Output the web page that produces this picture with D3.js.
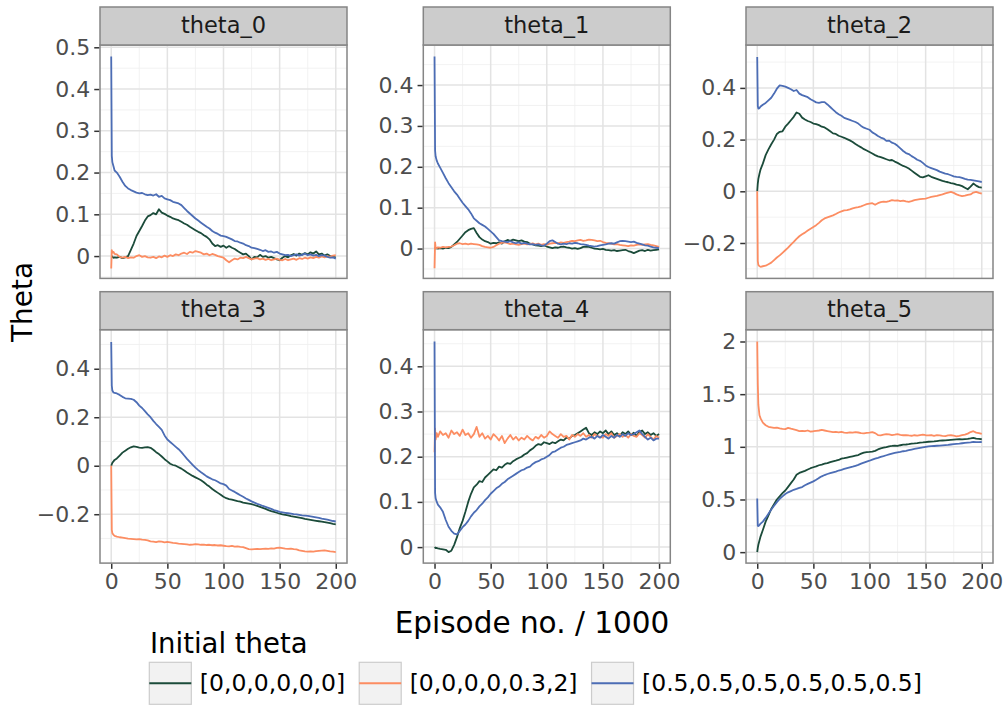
<!DOCTYPE html>
<html>
<head>
<meta charset="utf-8">
<script src="https://cdn.jsdelivr.net/npm/d3@7"></script>
<style>
  body { margin: 0; background: #ffffff; }
  svg { display: block; font-family: "DejaVu Sans", sans-serif; }
</style>
</head>
<body>
<svg id="chart" width="1008" height="707"></svg>
<script>
// Episode number (thousands) at which each parameter snapshot was taken
const episodes = [0, 0.5, 1, 2, 3,
  5, 7.5, 10, 12.5, 15, 17.5, 20, 22.5, 25, 27.5,
  30, 32.5, 35, 37.5, 40, 42.5, 45, 47.5, 50, 52.5,
  55, 57.5, 60, 62.5, 65, 67.5, 70, 72.5, 75, 77.5,
  80, 82.5, 85, 87.5, 90, 92.5, 95, 97.5, 100, 102.5,
  105, 107.5, 110, 112.5, 115, 117.5, 120, 122.5, 125, 127.5,
  130, 132.5, 135, 137.5, 140, 142.5, 145, 147.5, 150, 152.5,
  155, 157.5, 160, 162.5, 165, 167.5, 170, 172.5, 175, 177.5,
  180, 182.5, 185, 187.5, 190, 192.5, 195, 197.5, 200];

const initialThetas = ["[0,0,0,0,0,0]", "[0,0,0,0,0.3,2]", "[0.5,0.5,0.5,0.5,0.5,0.5]"];
const seriesColors = ["#1b4b3a", "#fc8d62", "#4c6db5"];
const facetNames = ["theta_0", "theta_1", "theta_2", "theta_3", "theta_4", "theta_5"];

// theta_0
const theta0Zero = [0, 0, -0.002, -0.004, -0.003,
  -0.004, -0.002, -0.005, -0.003, 0.0, 0.015, 0.03, 0.048, 0.06, 0.072,
  0.085, 0.095, 0.098, 0.103, 0.1, 0.112, 0.104, 0.101, 0.097, 0.094,
  0.09, 0.088, 0.086, 0.082, 0.078, 0.075, 0.07, 0.066, 0.062, 0.058,
  0.055, 0.05, 0.046, 0.04, 0.03, 0.024, 0.026, 0.022, 0.025, 0.02,
  0.024, 0.02, 0.017, 0.012, 0.008, 0.004, 0.006, 0.0, -0.008, -0.002,
  -0.003, 0.003, -0.002, 0.0, -0.004, -0.002, -0.005, -0.008, -0.01, -0.004,
  0.0, -0.003, 0.002, 0.005, 0.001, 0.006, 0.003, 0.007, 0.004, 0.009,
  0.006, 0.011, 0.004, 0.006, 0.001, 0.004, 0.0, -0.002, -0.003];
const theta0Mixed = [-0.03, 0.014, 0.008, 0.01, 0.005,
  0.004, -0.002, -0.004, -0.002, -0.005, -0.003, -0.004, 0.0, 0.002, -0.002,
  0.0, -0.003, -0.004, -0.002, -0.005, -0.001, -0.003, 0.001, -0.002, 0.002,
  0.0, 0.004, 0.002, 0.006, 0.008, 0.005, 0.01, 0.008, 0.012, 0.01,
  0.008, 0.004, 0.006, 0.002, 0.005, 0.003, 0.0, -0.002, -0.004, -0.01,
  -0.015, -0.01, -0.006, -0.008, -0.004, -0.005, -0.002, -0.005, -0.008, -0.006,
  -0.005, -0.008, -0.006, -0.009, -0.007, -0.01, -0.008, -0.006, -0.009, -0.01,
  -0.007, -0.01, -0.008, -0.006, -0.009, -0.005, -0.007, -0.004, -0.006, -0.003,
  -0.005, -0.002, -0.004, -0.001, -0.003, 0.0, -0.002, 0.001, 0.002];
const theta0Half = [0.478, 0.24, 0.225, 0.215, 0.205,
  0.2, 0.19, 0.178, 0.168, 0.162, 0.158, 0.155, 0.152, 0.15, 0.151,
  0.148, 0.146, 0.147, 0.145, 0.148, 0.142, 0.144, 0.138, 0.136, 0.134,
  0.13, 0.128, 0.126, 0.122, 0.115, 0.108, 0.102, 0.096, 0.09, 0.085,
  0.08, 0.075, 0.07, 0.066, 0.06, 0.056, 0.053, 0.049, 0.048, 0.046,
  0.043, 0.04, 0.036, 0.035, 0.032, 0.03, 0.026, 0.024, 0.02, 0.019,
  0.017, 0.015, 0.012, 0.014, 0.01, 0.011, 0.008, 0.01, 0.006, 0.004,
  0.002, 0.003, 0.0, 0.002, 0.004, 0.001, 0.003, 0.006, 0.002, 0.004,
  0.001, 0.003, 0.0, 0.002, 0.001, -0.002, -0.004, -0.003, -0.006];

// theta_1
const theta1Zero = [0, 0.001, 0.0, 0.001, 0.0,
  0.001, 0.0, 0.002, 0.001, 0.004, 0.01, 0.016, 0.024, 0.032, 0.04,
  0.045, 0.048, 0.05, 0.038, 0.028, 0.022, 0.018, 0.016, 0.012, 0.014,
  0.013, 0.015, 0.012, 0.018, 0.021, 0.019, 0.022, 0.02, 0.018, 0.02,
  0.017, 0.016, 0.012, 0.01, 0.008, 0.007, 0.006, 0.008, 0.005, 0.003,
  0.001, 0.003, 0.002, 0.004, 0.005, 0.003, 0.002, 0.0, 0.001, -0.001,
  0.001, 0.004, 0.005, 0.004, 0.002, 0.0, -0.001, -0.002, -0.001, -0.003,
  -0.004, -0.005, -0.004, -0.006, -0.005, -0.004, -0.003, -0.006, -0.008, -0.011,
  -0.008, -0.005, -0.004, -0.006, -0.003, -0.005, -0.004, -0.003, -0.002];
const theta1Mixed = [-0.048, 0.015, 0.002, 0.001, 0.003,
  0.002, 0.004, 0.003, 0.004, 0.005, 0.008, 0.012, 0.013, 0.011, 0.012,
  0.01, 0.012, 0.011, 0.01, 0.009, 0.006, 0.004, 0.003, 0.002, 0.004,
  0.008, 0.012, 0.014, 0.015, 0.013, 0.011, 0.012, 0.01, 0.009, 0.011,
  0.012, 0.01, 0.011, 0.013, 0.01, 0.012, 0.009, 0.011, 0.009, 0.012,
  0.013, 0.014, 0.013, 0.015, 0.014, 0.016, 0.017, 0.019, 0.018, 0.02,
  0.021, 0.019, 0.02, 0.022, 0.021, 0.02, 0.018, 0.019, 0.016, 0.014,
  0.013, 0.012, 0.01, 0.011, 0.009, 0.008, 0.007, 0.006, 0.008, 0.007,
  0.009, 0.01, 0.009, 0.01, 0.011, 0.009, 0.008, 0.006, 0.004];
const theta1Half = [0.47, 0.24, 0.225, 0.215, 0.208,
  0.198, 0.185, 0.172, 0.16, 0.15, 0.14, 0.132, 0.122, 0.112, 0.104,
  0.096, 0.086, 0.074, 0.068, 0.062, 0.058, 0.054, 0.048, 0.042, 0.036,
  0.028, 0.02, 0.018, 0.017, 0.016, 0.018, 0.015, 0.013, 0.015, 0.012,
  0.014, 0.012, 0.01, 0.011, 0.009, 0.01, 0.008, 0.007, 0.012, 0.018,
  0.02, 0.016, 0.012, 0.01, 0.012, 0.011, 0.013, 0.012, 0.014, 0.013,
  0.011, 0.01, 0.009, 0.007, 0.006, 0.005, 0.006, 0.008, 0.009, 0.01,
  0.012, 0.013, 0.012, 0.015, 0.018, 0.019, 0.018, 0.017, 0.016, 0.017,
  0.014, 0.012, 0.01, 0.008, 0.007, 0.005, 0.003, 0.002, 0.001];

// theta_2
const theta2Zero = [0, 0.03, 0.048, 0.068, 0.085,
  0.107, 0.14, 0.162, 0.182, 0.2, 0.222, 0.23, 0.232, 0.25, 0.262,
  0.275, 0.288, 0.305, 0.3, 0.285, 0.278, 0.272, 0.268, 0.262, 0.26,
  0.256, 0.25, 0.247, 0.24, 0.232, 0.224, 0.222, 0.215, 0.211, 0.207,
  0.202, 0.197, 0.191, 0.183, 0.176, 0.17, 0.163, 0.158, 0.152, 0.146,
  0.14, 0.135, 0.132, 0.128, 0.124, 0.12, 0.121, 0.115, 0.11, 0.104,
  0.098, 0.094, 0.088, 0.08, 0.072, 0.064, 0.056, 0.054, 0.058, 0.062,
  0.056, 0.052, 0.048, 0.044, 0.04, 0.037, 0.035, 0.032, 0.03, 0.026,
  0.024, 0.02, 0.014, 0.008, 0.018, 0.03, 0.022, 0.016, 0.014];
const theta2Mixed = [0, -0.27, -0.285, -0.29, -0.292,
  -0.29, -0.288, -0.282, -0.276, -0.266, -0.256, -0.248, -0.238, -0.228, -0.218,
  -0.206, -0.196, -0.184, -0.174, -0.166, -0.16, -0.152, -0.145, -0.138, -0.131,
  -0.122, -0.112, -0.105, -0.101, -0.097, -0.093, -0.088, -0.082, -0.078, -0.074,
  -0.073, -0.07, -0.066, -0.063, -0.061, -0.058, -0.054, -0.05, -0.048, -0.046,
  -0.052, -0.046, -0.042, -0.04, -0.041, -0.038, -0.034, -0.036, -0.035, -0.038,
  -0.036, -0.039, -0.041, -0.038, -0.034, -0.032, -0.03, -0.029, -0.028, -0.025,
  -0.022, -0.02, -0.018, -0.015, -0.012, -0.008, -0.005, -0.002, -0.006, -0.012,
  -0.016, -0.019, -0.017, -0.014, -0.012, -0.005, -0.002, -0.006, -0.009];
const theta2Half = [0.52, 0.33, 0.32, 0.322, 0.328,
  0.335, 0.342, 0.352, 0.362, 0.378, 0.397, 0.41, 0.408, 0.405, 0.4,
  0.395, 0.388, 0.392, 0.378, 0.372, 0.368, 0.364, 0.356, 0.35, 0.344,
  0.342, 0.345, 0.345, 0.336, 0.326, 0.316, 0.306, 0.298, 0.292, 0.284,
  0.28, 0.276, 0.272, 0.268, 0.262, 0.253, 0.246, 0.242, 0.238, 0.228,
  0.222, 0.214, 0.208, 0.204, 0.195, 0.196, 0.188, 0.184, 0.176, 0.166,
  0.156, 0.148, 0.144, 0.136, 0.13, 0.122, 0.118, 0.11, 0.1, 0.094,
  0.09, 0.086, 0.082, 0.076, 0.072, 0.068, 0.066, 0.062, 0.058, 0.056,
  0.055, 0.052, 0.048, 0.045, 0.044, 0.042, 0.04, 0.038, 0.036];

// theta_3
const theta3Zero = [0, 0.006, 0.012, 0.018, 0.024,
  0.03, 0.042, 0.054, 0.062, 0.07, 0.076, 0.08, 0.078, 0.075, 0.074,
  0.076, 0.077, 0.074, 0.066, 0.056, 0.048, 0.038, 0.027, 0.018, 0.008,
  0.003, 0.0, -0.006, -0.012, -0.02, -0.028, -0.035, -0.042, -0.048, -0.054,
  -0.06, -0.068, -0.078, -0.086, -0.096, -0.104, -0.112, -0.12, -0.128, -0.134,
  -0.138, -0.14, -0.143, -0.146, -0.148, -0.152, -0.154, -0.156, -0.158, -0.162,
  -0.166, -0.17, -0.174, -0.178, -0.183, -0.187, -0.19, -0.194, -0.198, -0.201,
  -0.203, -0.205, -0.208, -0.21, -0.212, -0.214, -0.216, -0.219, -0.221, -0.223,
  -0.225, -0.227, -0.229, -0.231, -0.233, -0.235, -0.237, -0.24, -0.242];
const theta3Mixed = [0, -0.265, -0.278, -0.285, -0.289,
  -0.292, -0.295, -0.297, -0.299, -0.301, -0.302, -0.303, -0.304, -0.303, -0.305,
  -0.306, -0.308, -0.312, -0.313, -0.315, -0.312, -0.313, -0.316, -0.314, -0.316,
  -0.318, -0.319, -0.321, -0.322, -0.323, -0.324, -0.326, -0.325, -0.323, -0.324,
  -0.326, -0.325, -0.327, -0.326, -0.328, -0.327, -0.329, -0.328, -0.33, -0.332,
  -0.333, -0.331, -0.334, -0.333, -0.335, -0.336, -0.34, -0.344, -0.345, -0.344,
  -0.343, -0.344, -0.343, -0.342, -0.343, -0.341, -0.342, -0.339, -0.338, -0.34,
  -0.342, -0.343, -0.342, -0.344, -0.345, -0.349, -0.351, -0.353, -0.354, -0.353,
  -0.354, -0.352, -0.351, -0.35, -0.349, -0.351, -0.353, -0.354, -0.356];
const theta3Half = [0.51, 0.33, 0.31, 0.302, 0.3,
  0.298, 0.292, 0.284, 0.278, 0.277, 0.276, 0.272, 0.262, 0.248, 0.238,
  0.225, 0.212, 0.2, 0.185, 0.172, 0.16, 0.148, 0.125, 0.108, 0.098,
  0.088, 0.078, 0.068, 0.056, 0.042, 0.028, 0.016, 0.004, -0.008, -0.018,
  -0.027, -0.035, -0.044, -0.05, -0.056, -0.06, -0.066, -0.073, -0.076, -0.082,
  -0.096, -0.102, -0.108, -0.115, -0.122, -0.128, -0.135, -0.141, -0.147, -0.152,
  -0.157, -0.161, -0.166, -0.17, -0.174, -0.178, -0.183, -0.186, -0.19, -0.192,
  -0.194, -0.196, -0.198, -0.2, -0.201, -0.203, -0.205, -0.206, -0.207, -0.209,
  -0.211, -0.213, -0.215, -0.218, -0.22, -0.222, -0.225, -0.228, -0.23];

// theta_4
const theta4Zero = [0, -0.001, -0.002, -0.002, -0.003,
  -0.004, -0.005, -0.006, -0.011, -0.008, 0.005, 0.022, 0.042, 0.058, 0.078,
  0.1, 0.118, 0.132, 0.138, 0.146, 0.144, 0.154, 0.16, 0.166, 0.172,
  0.17, 0.178, 0.176, 0.182, 0.186, 0.184, 0.19, 0.194, 0.197, 0.2,
  0.205, 0.208, 0.214, 0.218, 0.224, 0.228, 0.226, 0.232, 0.23, 0.228,
  0.232, 0.23, 0.234, 0.238, 0.236, 0.242, 0.24, 0.246, 0.248, 0.252,
  0.256, 0.26, 0.264, 0.252, 0.248, 0.254, 0.25, 0.256, 0.252, 0.258,
  0.25, 0.256, 0.248, 0.252, 0.246, 0.254, 0.25, 0.256, 0.248, 0.253,
  0.246, 0.255, 0.258, 0.25, 0.254, 0.248, 0.252, 0.246, 0.25];
const theta4Mixed = [0.21, 0.262, 0.238, 0.252, 0.244,
  0.256, 0.248, 0.252, 0.242, 0.258, 0.25, 0.254, 0.246, 0.26, 0.248,
  0.252, 0.242, 0.25, 0.266, 0.244, 0.252, 0.24, 0.246, 0.238, 0.25,
  0.244, 0.236, 0.246, 0.23, 0.24, 0.248, 0.238, 0.244, 0.236, 0.242,
  0.238, 0.246, 0.24, 0.236, 0.244, 0.24, 0.248, 0.242, 0.246, 0.256,
  0.25, 0.246, 0.242, 0.25, 0.244, 0.246, 0.238, 0.248, 0.244, 0.25,
  0.246, 0.252, 0.244, 0.248, 0.242, 0.25, 0.246, 0.244, 0.242, 0.25,
  0.246, 0.252, 0.242, 0.246, 0.25, 0.244, 0.248, 0.242, 0.25, 0.246,
  0.244, 0.252, 0.248, 0.242, 0.25, 0.244, 0.238, 0.246, 0.242];
const theta4Half = [0.455, 0.12, 0.108, 0.1, 0.094,
  0.088, 0.078, 0.06, 0.045, 0.036, 0.03, 0.028, 0.036, 0.044, 0.05,
  0.058, 0.068, 0.076, 0.082, 0.09, 0.096, 0.104, 0.11, 0.118, 0.124,
  0.13, 0.134, 0.14, 0.144, 0.15, 0.154, 0.158, 0.162, 0.166, 0.17,
  0.172, 0.176, 0.178, 0.184, 0.188, 0.19, 0.194, 0.196, 0.2, 0.204,
  0.21, 0.212, 0.216, 0.22, 0.222, 0.226, 0.228, 0.23, 0.232, 0.234,
  0.236, 0.24, 0.238, 0.242, 0.244, 0.24, 0.246, 0.242, 0.248, 0.244,
  0.24, 0.246, 0.242, 0.248, 0.244, 0.25, 0.246, 0.252, 0.248, 0.25,
  0.254, 0.258, 0.25, 0.244, 0.238, 0.242, 0.236, 0.24, 0.24];

// theta_5
const theta5Zero = [0, 0.04, 0.07, 0.11, 0.15,
  0.21, 0.29, 0.35, 0.41, 0.455, 0.5, 0.53, 0.56, 0.585, 0.62,
  0.655, 0.69, 0.735, 0.752, 0.762, 0.772, 0.785, 0.797, 0.806, 0.815,
  0.825, 0.832, 0.84, 0.845, 0.855, 0.862, 0.868, 0.875, 0.888, 0.892,
  0.898, 0.904, 0.91, 0.916, 0.922, 0.935, 0.945, 0.95, 0.952, 0.955,
  0.962, 0.975, 0.985, 0.992, 0.998, 1.005, 1.008, 1.012, 1.008, 1.015,
  1.02, 1.022, 1.025, 1.03, 1.032, 1.035, 1.04, 1.042, 1.045, 1.048,
  1.05, 1.052, 1.055, 1.058, 1.06, 1.062, 1.064, 1.066, 1.068, 1.07,
  1.072, 1.07, 1.074, 1.076, 1.08, 1.085, 1.078, 1.075, 1.072];
const theta5Mixed = [2.0, 1.6, 1.4, 1.3, 1.27,
  1.23, 1.205, 1.19, 1.185, 1.18, 1.182, 1.175, 1.17, 1.168, 1.18,
  1.172, 1.165, 1.158, 1.15, 1.152, 1.148, 1.155, 1.145, 1.148, 1.152,
  1.155, 1.16, 1.155, 1.15, 1.145, 1.14, 1.142, 1.138, 1.142, 1.135,
  1.132, 1.138, 1.135, 1.14, 1.136, 1.13, 1.128, 1.132, 1.135, 1.14,
  1.13, 1.112, 1.108, 1.115, 1.12, 1.118, 1.112, 1.115, 1.12, 1.114,
  1.11, 1.112, 1.108, 1.105, 1.11, 1.106, 1.112, 1.115, 1.11, 1.108,
  1.112, 1.105, 1.11, 1.108, 1.104, 1.102, 1.108, 1.11, 1.106, 1.1,
  1.104, 1.11, 1.115, 1.125, 1.14, 1.148, 1.135, 1.13, 1.122];
const theta5Half = [0.51, 0.25, 0.248, 0.258, 0.27,
  0.29, 0.325, 0.365, 0.405, 0.44, 0.475, 0.505, 0.53, 0.552, 0.568,
  0.58, 0.592, 0.6, 0.61, 0.618, 0.635, 0.648, 0.66, 0.672, 0.688,
  0.705, 0.72, 0.732, 0.742, 0.75, 0.758, 0.765, 0.775, 0.782, 0.79,
  0.798, 0.805, 0.812, 0.82, 0.828, 0.84, 0.85, 0.86, 0.868, 0.878,
  0.888, 0.896, 0.905, 0.912, 0.92, 0.928, 0.935, 0.942, 0.948, 0.952,
  0.958, 0.962, 0.968, 0.974, 0.98, 0.985, 0.99, 0.995, 1.0, 1.004,
  1.006, 1.008, 1.01, 1.012, 1.014, 1.016, 1.018, 1.022, 1.025, 1.028,
  1.03, 1.034, 1.038, 1.04, 1.042, 1.046, 1.044, 1.045, 1.046];

const facetSeries = [
  [theta0Zero, theta0Mixed, theta0Half],
  [theta1Zero, theta1Mixed, theta1Half],
  [theta2Zero, theta2Mixed, theta2Half],
  [theta3Zero, theta3Mixed, theta3Half],
  [theta4Zero, theta4Mixed, theta4Half],
  [theta5Zero, theta5Mixed, theta5Half]
];

// Free y scales per facet
const yLimits = [
  [-0.0535, 0.5055],
  [-0.073, 0.498],
  [-0.337, 0.566],
  [-0.4016, 0.561],
  [-0.0354, 0.481],
  [-0.104, 2.112]
];
const yBreaks = [
  [0, 0.1, 0.2, 0.3, 0.4, 0.5],
  [0, 0.1, 0.2, 0.3, 0.4],
  [-0.2, 0, 0.2, 0.4],
  [-0.2, 0, 0.2, 0.4],
  [0, 0.1, 0.2, 0.3, 0.4],
  [0, 0.5, 1, 1.5, 2]
];
const yBreakLabels = [
  ["0", "0.1", "0.2", "0.3", "0.4", "0.5"],
  ["0", "0.1", "0.2", "0.3", "0.4"],
  ["\u22120.2", "0", "0.2", "0.4"],
  ["\u22120.2", "0", "0.2", "0.4"],
  ["0", "0.1", "0.2", "0.3", "0.4"],
  ["0", "0.5", "1", "1.5", "2"]
];
const xLimits = [-10, 210];
const xBreaks = [0, 50, 100, 150, 200];
const xBreakLabels = ["0", "50", "100", "150", "200"];
const xMinorBreaks = [25, 75, 125, 175];

// Layout
const colLeft = [100, 423.3, 746];
const rowTop = [7, 291.7];
const stripH = 38;
const panelW = 247;
const panelH = 233.4;
const borderColor = "#858585";

const svg = d3.select("#chart");

facetNames.forEach((name, i) => {
  const col = i % 3, row = Math.floor(i / 3);
  const left = colLeft[col];
  const stripTop = rowTop[row];
  const top = stripTop + stripH;

  const x = d3.scaleLinear().domain(xLimits).range([left, left + panelW]);
  const y = d3.scaleLinear().domain(yLimits[i]).range([top + panelH, top]);

  const g = svg.append("g");

  // panel background
  g.append("rect").attr("x", left).attr("y", top)
    .attr("width", panelW).attr("height", panelH).attr("fill", "#ffffff");

  // minor grid lines sit halfway between the major breaks
  const yb = yBreaks[i];
  const step = yb[1] - yb[0];
  const yMinor = [yb[0] - step / 2].concat(yb.map(v => v + step / 2))
    .filter(v => v > yLimits[i][0] && v < yLimits[i][1]);

  g.selectAll(".ymin").data(yMinor).join("line")
    .attr("x1", left).attr("x2", left + panelW)
    .attr("y1", d => y(d)).attr("y2", d => y(d))
    .attr("stroke", "#efefef").attr("stroke-width", 0.8);
  g.selectAll(".xmin").data(xMinorBreaks).join("line")
    .attr("y1", top).attr("y2", top + panelH)
    .attr("x1", d => x(d)).attr("x2", d => x(d))
    .attr("stroke", "#efefef").attr("stroke-width", 0.8);
  g.selectAll(".ymaj").data(yb).join("line")
    .attr("x1", left).attr("x2", left + panelW)
    .attr("y1", d => y(d)).attr("y2", d => y(d))
    .attr("stroke", "#e3e3e3").attr("stroke-width", 1.5);
  g.selectAll(".xmaj").data(xBreaks).join("line")
    .attr("y1", top).attr("y2", top + panelH)
    .attr("x1", d => x(d)).attr("x2", d => x(d))
    .attr("stroke", "#e3e3e3").attr("stroke-width", 1.5);

  // series lines, clipped to the panel
  const clipId = "clip" + i;
  svg.append("clipPath").attr("id", clipId).append("rect")
    .attr("x", left).attr("y", top).attr("width", panelW).attr("height", panelH);

  const line = d3.line().x((d, k) => x(episodes[k])).y(d => y(d));
  const lines = g.append("g").attr("clip-path", `url(#${clipId})`);
  facetSeries[i].forEach((vals, s) => {
    lines.append("path").datum(vals)
      .attr("d", line)
      .attr("fill", "none")
      .attr("stroke", seriesColors[s])
      .attr("stroke-width", 1.8)
      .attr("stroke-linejoin", "round");
  });

  // panel border
  g.append("rect").attr("x", left).attr("y", top)
    .attr("width", panelW).attr("height", panelH)
    .attr("fill", "none").attr("stroke", borderColor).attr("stroke-width", 1.5);

  // strip
  g.append("rect").attr("x", left).attr("y", stripTop)
    .attr("width", panelW).attr("height", stripH)
    .attr("fill", "#cccccc").attr("stroke", borderColor).attr("stroke-width", 1.5);
  g.append("text").attr("x", left + panelW / 2).attr("y", stripTop + 25.5)
    .attr("text-anchor", "middle").attr("font-size", 22.5)
    .attr("fill", "#1a1a1a").text(name);

  // y axis
  const yAxis = d3.axisLeft(y).tickValues(yb)
    .tickFormat((d, k) => yBreakLabels[i][k])
    .tickSize(5).tickPadding(4);
  const ya = svg.append("g").attr("transform", `translate(${left - 0.75},0)`).call(yAxis);
  ya.select(".domain").remove();
  ya.selectAll(".tick line").attr("stroke", "#333333").attr("stroke-width", 1.5);
  ya.selectAll(".tick text").attr("fill", "#4d4d4d").attr("font-size", 22)
    .attr("font-family", "DejaVu Sans");

  // x axis only under the bottom row
  if (row === 1) {
    const xAxis = d3.axisBottom(x).tickValues(xBreaks)
      .tickFormat((d, k) => xBreakLabels[k])
      .tickSize(5).tickPadding(5);
    const xa = svg.append("g").attr("transform", `translate(0,${top + panelH + 0.75})`).call(xAxis);
    xa.select(".domain").remove();
    xa.selectAll(".tick line").attr("stroke", "#333333").attr("stroke-width", 1.5);
    xa.selectAll(".tick text").attr("fill", "#4d4d4d").attr("font-size", 22)
      .attr("font-family", "DejaVu Sans");
  }
});

// axis titles
svg.append("text").attr("x", 532).attr("y", 633)
  .attr("text-anchor", "middle").attr("font-size", 29.5).attr("fill", "#000")
  .text("Episode no. / 1000");
svg.append("text").attr("transform", "translate(32,302) rotate(-90)")
  .attr("text-anchor", "middle").attr("font-size", 28).attr("fill", "#000")
  .text("Theta");

// legend
const legend = svg.append("g");
legend.append("text").attr("x", 150).attr("y", 653)
  .attr("font-size", 27.5).attr("fill", "#000").text("Initial theta");

let lx = 149.3;
const keySize = 42, keyTop = 662.3;
initialThetas.forEach((label, s) => {
  legend.append("rect").attr("x", lx).attr("y", keyTop)
    .attr("width", keySize).attr("height", keySize)
    .attr("fill", "#f2f2f2").attr("stroke", "#cccccc").attr("stroke-width", 1.2);
  legend.append("line").attr("x1", lx).attr("x2", lx + keySize)
    .attr("y1", keyTop + keySize / 2).attr("y2", keyTop + keySize / 2)
    .attr("stroke", seriesColors[s]).attr("stroke-width", 2);
  const t = legend.append("text").attr("x", lx + keySize + 8.5).attr("y", keyTop + keySize / 2 + 8)
    .attr("font-size", 23.5).attr("fill", "#000").text(label);
  lx = lx + keySize + 8.5 + t.node().getComputedTextLength() + 14;
});
</script>
</body>
</html>
